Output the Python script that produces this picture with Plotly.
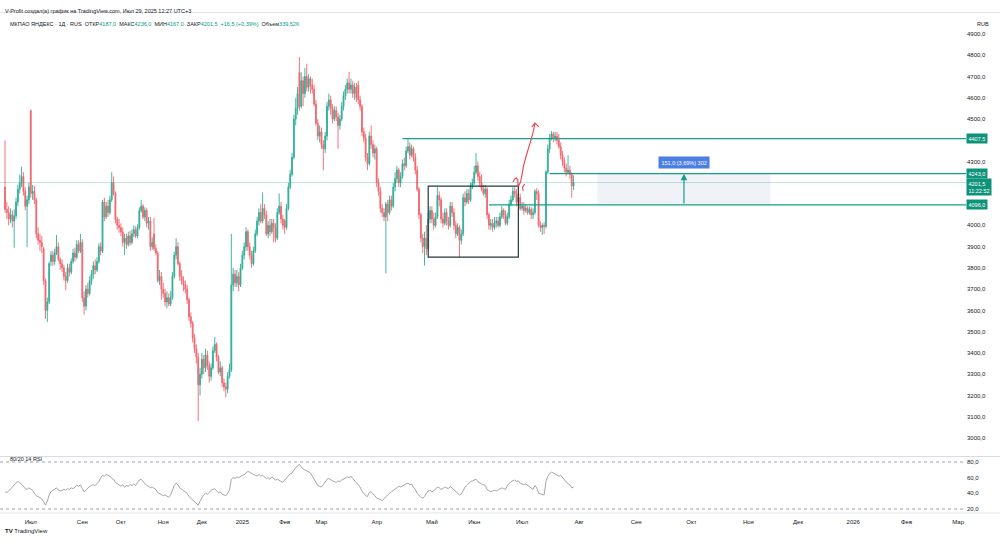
import pandas as pd
import plotly.graph_objects as go

# ---------------- data ----------------
first_date = "2024-07-04"
listing_date = "2024-07-24"
weekday_end = "2025-02-28"
weekend_start = "2025-03-01"
last_date = "2025-07-29"
holidays_2025 = ["2025-03-08", "2025-05-01", "2025-05-02", "2025-05-03", "2025-05-04",
                 "2025-05-08", "2025-05-09", "2025-05-10", "2025-05-11",
                 "2025-06-12", "2025-06-13", "2025-06-14", "2025-06-15"]
future_holidays = ["2025-11-02", "2025-11-03", "2025-11-04", "2025-12-31", "2026-01-01", "2026-01-02"]
future_end = "2026-03-31"

opens = [
    4180, 4075, 4060, 4030, 4050, 4020, 4045, 4110, 4170, 4200,
    4230, 4160, 4090, 4120, 4540, 4150, 4160, 4120, 3960, 3930,
    3920, 3890, 3740, 3600, 3640, 3830, 3860, 3830, 3870, 3900,
    3840, 3820, 3800, 3760, 3740, 3800, 3780, 3830, 3870, 3850,
    3910, 3880, 3920, 3660, 3620, 3700, 3680, 3740, 3770, 3810,
    3790, 3830, 3900, 3880, 4110, 4040, 4090, 4060, 4120, 4200,
    4150, 4030, 4000, 3990, 3970, 3920, 3940, 3910, 3950, 3920,
    3960, 3980, 3950, 3990, 4070, 4090, 4040, 4070, 4010, 4020,
    3900, 3960, 3890, 3870, 3740, 3760, 3700, 3680, 3640, 3660,
    3630, 3660, 3760, 3860, 3900, 3820, 3760, 3740, 3720, 3700,
    3650, 3570, 3540, 3470, 3420, 3380, 3250, 3300, 3370, 3330,
    3390, 3340, 3290, 3330, 3410, 3440, 3380, 3310, 3330, 3260,
    3240, 3230, 3290, 3320, 3720, 3770, 3730, 3760, 3720, 3800,
    3860, 3900, 3970, 3900, 3860, 3820, 3880, 3960, 4020, 4060,
    4020, 4080, 4050, 3960, 4000, 3970, 4010, 3990, 3940, 4060,
    4090, 4030, 4020, 3990, 4080, 4180, 4240, 4320, 4500, 4550,
    4720, 4560, 4680, 4620, 4700, 4650, 4690, 4660, 4640, 4570,
    4480, 4420, 4440, 4380, 4360, 4420, 4560, 4590, 4550, 4500,
    4540, 4510, 4470, 4500, 4560, 4610, 4640, 4670, 4640, 4660,
    4620, 4650, 4660, 4590, 4560, 4440, 4410, 4320, 4290, 4420,
    4380, 4340, 4360, 4200, 4160, 4080, 4060, 4040, 4100, 4060,
    4120, 4090, 4180, 4220, 4260, 4200, 4230, 4290, 4280, 4350,
    4370, 4330, 4360, 4320, 4260, 4170, 4050, 3940, 3900, 3940,
    3890, 4030, 4070, 4030, 4000, 4040, 4140, 4120, 4030, 4010,
    4060, 4020, 4000, 4090, 4060, 4000, 3960, 3990, 3930, 3960,
    4130, 4110, 4150, 4120, 4180, 4200, 4250, 4280, 4230, 4200,
    4170, 4150, 4170, 4050, 4000, 4010, 3990, 4010, 4020, 4000,
    4040, 4070, 4050, 4010, 4040, 4100, 4120, 4160, 4150, 4110,
    4130, 4080, 4090, 4070, 4080, 4060, 4075, 4050, 4060, 4160,
    4150, 4000, 3990, 4000, 3995, 4250, 4360, 4410, 4430, 4410,
    4420, 4400, 4370, 4330, 4300, 4270, 4250, 4260, 4240, 4187,
]
highs = [
    4400, 4110, 4090, 4080, 4070, 4075, 4130, 4190, 4240, 4275,
    4250, 4180, 4140, 4200, 4545, 4190, 4185, 4130, 3990, 3960,
    3950, 3900, 3750, 3660, 3830, 3880, 3880, 3890, 3955, 3920,
    3850, 3840, 3815, 3780, 3820, 3820, 3845, 3890, 3895, 3930,
    3930, 3960, 3935, 3690, 3720, 3730, 3760, 3790, 3830, 3840,
    3850, 3915, 3920, 4120, 4130, 4110, 4120, 4140, 4250, 4230,
    4160, 4040, 4030, 4010, 3990, 3960, 3960, 3970, 3975, 3980,
    4000, 3995, 4005, 4085, 4120, 4100, 4085, 4080, 4040, 4040,
    3945, 4035, 3910, 3880, 3790, 3780, 3730, 3700, 3690, 3680,
    3690, 3780, 3875, 3940, 3920, 3830, 3790, 3760, 3740, 3720,
    3660, 3590, 3550, 3490, 3440, 3400, 3330, 3400, 3390, 3420,
    3410, 3360, 3350, 3430, 3475, 3450, 3390, 3360, 3340, 3280,
    3260, 3310, 3350, 3960, 3800, 3790, 3790, 3780, 3820, 3880,
    3920, 3990, 3980, 3920, 3880, 3900, 3980, 4040, 4080, 4100,
    4155, 4100, 4070, 4020, 4030, 4030, 4030, 4010, 4080, 4150,
    4110, 4050, 4030, 4100, 4200, 4260, 4340, 4520, 4600, 4650,
    4792, 4720, 4700, 4740, 4760, 4710, 4700, 4690, 4660, 4590,
    4500, 4470, 4460, 4400, 4440, 4580, 4620, 4610, 4570, 4560,
    4560, 4530, 4520, 4580, 4630, 4660, 4690, 4722, 4690, 4680,
    4670, 4670, 4680, 4610, 4570, 4460, 4430, 4340, 4440, 4470,
    4400, 4380, 4370, 4220, 4180, 4100, 4080, 4110, 4120, 4140,
    4140, 4200, 4250, 4280, 4270, 4250, 4310, 4320, 4370, 4407,
    4390, 4380, 4370, 4340, 4280, 4180, 4060, 3960, 3970, 4000,
    4060, 4090, 4090, 4060, 4060, 4180, 4160, 4130, 4060, 4080,
    4080, 4040, 4110, 4110, 4080, 4020, 4010, 4000, 3980, 4150,
    4160, 4170, 4170, 4200, 4220, 4280, 4340, 4300, 4250, 4240,
    4190, 4190, 4180, 4060, 4030, 4030, 4040, 4040, 4040, 4060,
    4090, 4080, 4070, 4060, 4120, 4140, 4180, 4180, 4170, 4150,
    4150, 4110, 4110, 4100, 4090, 4090, 4085, 4080, 4170, 4175,
    4165, 4020, 4010, 4015, 4260, 4380, 4430, 4443, 4440, 4440,
    4440, 4430, 4390, 4350, 4320, 4290, 4330, 4280, 4250, 4236,
]
lows = [
    4060, 4030, 4000, 4010, 3990, 3895, 4030, 4090, 4150, 4180,
    4140, 4070, 3897, 4100, 4130, 4120, 4100, 3940, 3910, 3880,
    3870, 3720, 3560, 3545, 3630, 3810, 3810, 3815, 3860, 3830,
    3790, 3780, 3740, 3695, 3730, 3760, 3770, 3820, 3830, 3840,
    3870, 3870, 3640, 3580, 3600, 3660, 3670, 3720, 3750, 3770,
    3780, 3820, 3860, 3870, 4020, 4030, 4040, 4050, 4110, 4140,
    4010, 3980, 3965, 3950, 3900, 3860, 3890, 3900, 3905, 3910,
    3945, 3940, 3940, 3980, 4060, 4030, 4020, 3990, 3980, 3880,
    3885, 3880, 3860, 3730, 3720, 3650, 3660, 3620, 3610, 3620,
    3620, 3650, 3750, 3840, 3810, 3740, 3720, 3690, 3680, 3630,
    3550, 3520, 3450, 3400, 3350, 3080, 3200, 3280, 3300, 3310,
    3320, 3260, 3270, 3320, 3400, 3360, 3300, 3290, 3240, 3220,
    3190, 3210, 3280, 3310, 3690, 3710, 3710, 3690, 3710, 3790,
    3840, 3880, 3880, 3840, 3800, 3810, 3870, 3950, 4000, 4010,
    4010, 4030, 3950, 3940, 3950, 3960, 3920, 3920, 3930, 4050,
    4010, 3980, 3960, 3980, 4070, 4170, 4230, 4310, 4470, 4520,
    4540, 4550, 4560, 4600, 4630, 4630, 4620, 4620, 4560, 4470,
    4400, 4390, 4360, 4260, 4340, 4400, 4540, 4520, 4480, 4490,
    4490, 4360, 4450, 4490, 4540, 4590, 4620, 4620, 4620, 4600,
    4590, 4580, 4570, 4540, 4420, 4390, 4300, 4260, 4280, 4360,
    4320, 4310, 4180, 4140, 4060, 4040, 4020, 3774, 4020, 4050,
    4070, 4080, 4160, 4200, 4180, 4180, 4220, 4260, 4270, 4340,
    4310, 4320, 4300, 4240, 4160, 4030, 3920, 3870, 3811, 3860,
    3880, 4010, 4010, 3980, 3990, 4030, 4090, 4010, 3990, 4000,
    4000, 3980, 3990, 4040, 3980, 3940, 3950, 3850, 3910, 3950,
    4090, 4100, 4100, 4110, 4170, 4190, 4240, 4210, 4180, 4160,
    4140, 4130, 4030, 3980, 3980, 3970, 3980, 3990, 3990, 3990,
    4030, 4030, 4000, 4000, 4030, 4090, 4110, 4130, 4090, 4100,
    4070, 4070, 4050, 4060, 4050, 4050, 4030, 4030, 4050, 4120,
    3990, 3970, 3955, 3960, 3985, 4240, 4340, 4400, 4390, 4395,
    4380, 4360, 4310, 4280, 4250, 4230, 4240, 4220, 4130, 4167,
]
closes = [
    4075, 4060, 4030, 4050, 4020, 4045, 4110, 4170, 4200, 4230,
    4160, 4090, 4120, 4180, 4150, 4160, 4120, 3960, 3930, 3920,
    3900, 3740, 3600, 3640, 3820, 3860, 3830, 3870, 3900, 3840,
    3820, 3800, 3760, 3740, 3800, 3780, 3830, 3870, 3850, 3910,
    3880, 3920, 3660, 3620, 3700, 3680, 3740, 3770, 3810, 3790,
    3830, 3900, 3880, 4110, 4040, 4090, 4060, 4120, 4200, 4150,
    4030, 4000, 3990, 3970, 3920, 3940, 3910, 3950, 3920, 3960,
    3980, 3950, 3990, 4070, 4090, 4040, 4070, 4010, 4020, 3900,
    3920, 3890, 3870, 3740, 3760, 3700, 3680, 3640, 3660, 3630,
    3660, 3760, 3860, 3900, 3820, 3760, 3740, 3720, 3700, 3650,
    3570, 3540, 3470, 3420, 3380, 3250, 3300, 3370, 3330, 3390,
    3340, 3290, 3330, 3410, 3440, 3380, 3310, 3330, 3260, 3240,
    3230, 3290, 3320, 3720, 3770, 3730, 3760, 3720, 3800, 3860,
    3900, 3970, 3900, 3860, 3820, 3880, 3960, 4020, 4060, 4020,
    4080, 4050, 3960, 4000, 3970, 4010, 3990, 3940, 4060, 4090,
    4030, 4000, 3990, 4080, 4180, 4240, 4320, 4500, 4550, 4620,
    4560, 4680, 4620, 4700, 4650, 4690, 4660, 4640, 4570, 4480,
    4420, 4440, 4380, 4360, 4420, 4560, 4590, 4550, 4500, 4540,
    4510, 4470, 4500, 4560, 4610, 4640, 4670, 4640, 4660, 4620,
    4650, 4600, 4590, 4560, 4440, 4410, 4320, 4290, 4420, 4380,
    4340, 4360, 4200, 4160, 4080, 4060, 4040, 4100, 4060, 4120,
    4090, 4180, 4220, 4260, 4200, 4230, 4290, 4280, 4350, 4370,
    4330, 4360, 4320, 4260, 4170, 4050, 3940, 3900, 3940, 3890,
    4030, 4070, 4030, 4000, 4040, 4140, 4120, 4030, 4010, 4060,
    4020, 4000, 4090, 4060, 4000, 3960, 3990, 3930, 3960, 4130,
    4110, 4150, 4120, 4180, 4200, 4250, 4280, 4230, 4200, 4170,
    4150, 4170, 4050, 4000, 4010, 3990, 4010, 4020, 4000, 4040,
    4070, 4050, 4010, 4040, 4100, 4120, 4160, 4150, 4110, 4130,
    4080, 4090, 4070, 4080, 4060, 4075, 4050, 4060, 4160, 4150,
    4000, 3990, 4000, 3995, 4250, 4360, 4410, 4430, 4410, 4420,
    4400, 4370, 4330, 4300, 4270, 4250, 4260, 4240, 4185, 4201.5,
]
rsi = [
    42, 41, 43, 45, 48, 51, 53, 55, 54, 52,
    49, 46, 45, 47, 46, 44, 40, 37, 36, 35,
    33, 29, 25, 30, 38, 42, 44, 46, 47, 44,
    43, 44, 45, 44, 46, 45, 47, 46, 48, 50,
    49, 51, 46, 42, 44, 47, 49, 50, 51, 50,
    52, 55, 60, 63, 62, 64, 63, 62, 59, 58,
    54, 52, 50, 49, 51, 48, 50, 49, 51, 50,
    52, 50, 54, 57, 58, 55, 53, 50, 49, 47,
    48, 46, 45, 41, 40, 38, 37, 38, 36, 35,
    38, 45, 50, 53, 51, 47, 45, 43, 41, 40,
    36, 34, 31, 29, 27, 25, 30, 34, 38, 40,
    39, 41, 44, 45, 46, 43, 41, 42, 39, 38,
    37, 40, 44, 58, 60, 59, 61, 60, 62, 63,
    64, 66, 68, 67, 65, 64, 63, 62, 64, 62,
    63, 61, 59, 60, 58, 61, 59, 57, 58, 56,
    55, 54, 57, 60, 63, 65, 66, 70, 73, 75,
    77, 74, 71, 70, 69, 68, 66, 62, 58, 54,
    50, 49, 48, 51, 54, 58, 59, 57, 56, 55,
    54, 56, 55, 57, 58, 60, 61, 60, 62, 59,
    56, 53, 51, 48, 43, 40, 37, 36, 41, 42,
    40, 37, 34, 33, 32, 31, 33, 36, 38, 40,
    42, 44, 45, 47, 49, 48, 50, 51, 52, 53,
    51, 52, 48, 45, 40, 37, 35, 34, 36, 40,
    43, 44, 42, 43, 45, 48, 47, 45, 46, 48,
    47, 46, 49, 47, 44, 42, 41, 38, 39, 44,
    48, 50, 53, 55, 56, 57, 58, 55, 53, 52,
    51, 50, 45, 43, 42, 43, 44, 43, 44, 45,
    47, 46, 45, 50, 53, 55, 56, 57, 55, 56,
    53, 52, 51, 52, 50, 48, 46, 45, 50, 47,
    40, 39, 38, 38, 55, 62, 65, 67, 66, 65,
    64, 62, 63, 60, 57, 54, 52, 51, 47, 48,
]
volume_text = "339,52K"

levels = [4407.5, 4243.0, 4096.0]
level_start_dates = ["2025-04-15", "2025-07-16", "2025-06-09"]
box_dates = ["2025-04-29", "2025-06-29"]
box_prices = [3851, 4185]
measure_dates = ["2025-08-11", "2025-11-16"]
measure_arrow_date = "2025-09-27"
measure_label = "151,0 (3,69%) 302"
# hand-drawn red sketch: (bar position, price)
sketch_curve = [(276.1, 4204), (277.0, 4218), (277.8, 4224), (278.7, 4214), (278.8, 4192),
                (278.3, 4180), (279.3, 4188), (280.2, 4205), (281.0, 4240), (281.8, 4280),
                (283.2, 4325), (284.6, 4365), (285.8, 4400), (286.9, 4434), (287.6, 4462),
                (288.0, 4481)]
sketch_head = [(286.4, 4463), (288.0, 4481), (290.2, 4463)]
sketch_bracket = [(282.4, 4194), (281.3, 4180), (281.6, 4162)]

# ---------------- calendar / positions ----------------
pre = pd.bdate_range(first_date, weekday_end)
post = pd.date_range(weekend_start, last_date)
post = post[~post.isin(pd.to_datetime(holidays_2025))]
dates = pre.append(post)
n = len(dates)
assert n == len(opens) == len(highs) == len(lows) == len(closes) == len(rsi)
fut = pd.date_range(pd.Timestamp(last_date) + pd.Timedelta(days=1), future_end)
fut = fut[~fut.isin(pd.to_datetime(future_holidays))]
all_dates = list(dates) + list(fut)
pos = {d.strftime("%Y-%m-%d"): i for i, d in enumerate(all_dates)}
xs = list(range(n))

def P(d):
    return pos[d]

months_ru = {1: "Янв", 2: "Фев", 3: "Мар", 4: "Апр", 5: "Май", 6: "Июн",
             7: "Июл", 8: "Авг", 9: "Сен", 10: "Окт", 11: "Ноя", 12: "Дек"}
tickvals, ticktext = [], []
seen = set()
start_i = pos[listing_date]
for i, d in enumerate(all_dates):
    key = (d.year, d.month)
    if key in seen:
        continue
    seen.add(key)
    ii = start_i if i < start_i else i
    if tickvals and ii - tickvals[-1] < 12:
        continue
    tickvals.append(ii)
    dd = all_dates[ii]
    ticktext.append(str(dd.year) if dd.month == 1 else months_ru[dd.month])

# ---------------- styling ----------------
UP = "#2fae98"
DN = "#f0656d"
TEAL = "#14a087"
BOX_TEAL = "#0e937b"
PX0, PXW = 5.0, 1.84          # first bar pixel & bar spacing
xr = [-PX0 / PXW, (1000 - PX0) / PXW]
axis_frac = 0.966
x_axis_edge = xr[0] + axis_frac * (xr[1] - xr[0])
yr = [2915.3, 5003.5]
rr = [14.9, 86.4]
MT, MB = 12, 31
H = 544
PH = H - MT - MB

def fy(py):
    return (H - MB - py) / PH

def fmt(v):
    return f"{v:.1f}".replace(".", ",")

fig = go.Figure()
fig.add_trace(go.Candlestick(
    x=xs, open=opens, high=highs, low=lows, close=closes,
    increasing=dict(line=dict(color=UP, width=0.9), fillcolor=UP),
    decreasing=dict(line=dict(color=DN, width=0.9), fillcolor=DN),
    whiskerwidth=0, xaxis="x", yaxis="y", hoverinfo="skip"))
fig.add_trace(go.Scatter(x=xs, y=rsi, mode="lines", line=dict(color="#a3a6af", width=1),
                         xaxis="x2", yaxis="y2", hoverinfo="skip"))

shapes = []
# last price line
shapes.append(dict(type="line", xref="x", yref="y", x0=xr[0], x1=x_axis_edge,
                   y0=closes[-1], y1=closes[-1], line=dict(color="rgba(20,160,135,0.28)", width=1)))
# measurement shaded area
shapes.append(dict(type="rect", xref="x", yref="y", x0=P(measure_dates[0]), x1=P(measure_dates[1]),
                   y0=levels[2], y1=levels[1], fillcolor="rgba(205,210,225,0.28)", line=dict(width=0), layer="below"))
# level lines
for lv, ds in zip(levels, level_start_dates):
    shapes.append(dict(type="line", xref="x", yref="y", x0=P(ds), x1=x_axis_edge, y0=lv, y1=lv,
                       line=dict(color=TEAL, width=1.3)))
# consolidation box
shapes.append(dict(type="rect", xref="x", yref="y", x0=P(box_dates[0]), x1=P(box_dates[1]),
                   y0=box_prices[0], y1=box_prices[1], line=dict(color="#24383a", width=1.2)))

def path(pts):
    return "M " + " L ".join(f"{a},{b}" for a, b in pts)

for pts in (sketch_curve, sketch_head, sketch_bracket):
    shapes.append(dict(type="path", xref="x", yref="y", path=path(pts),
                       line=dict(color="#e8434d", width=1.1)))
# RSI bands
for lv in (80, 20):
    shapes.append(dict(type="line", xref="paper", yref="y2", x0=0, x1=axis_frac, y0=lv, y1=lv,
                       line=dict(color="#9aa0aa", width=1, dash="dot")))
# frame lines
shapes.append(dict(type="line", xref="paper", yref="paper", x0=0, x1=1, y0=fy(456.5), y1=fy(456.5),
                   line=dict(color="#d8dbe3", width=1)))
shapes.append(dict(type="line", xref="paper", yref="paper", x0=0, x1=1, y0=fy(12.5), y1=fy(12.5),
                   line=dict(color="#e0e3eb", width=1)))
shapes.append(dict(type="line", xref="paper", yref="paper", x0=0, x1=1, y0=0, y1=0,
                   line=dict(color="#e0e3eb", width=1)))

ann = []
# measurement arrow + label
ma = P(measure_arrow_date)
ann.append(dict(x=ma, y=levels[1], ax=ma, ay=levels[2], xref="x", yref="y", axref="x", ayref="y",
                showarrow=True, arrowhead=2, arrowsize=1.1, arrowwidth=1.2, arrowcolor=TEAL, text=""))
ann.append(dict(x=ma, y=levels[1] + 52, xref="x", yref="y", text=measure_label, showarrow=False,
                font=dict(size=5.5, color="white"), bgcolor="#4c7fe6", borderpad=2.5))
# axis price labels
for lv in levels:
    ann.append(dict(x=axis_frac, y=lv, xref="paper", yref="y", xanchor="left", text=fmt(lv),
                    showarrow=False, font=dict(size=5.5, color="white"), bgcolor=BOX_TEAL, borderpad=1.5))
ann.append(dict(x=axis_frac, y=closes[-1], xref="paper", yref="y", xanchor="left", yanchor="top",
                yshift=5, text=f"{fmt(closes[-1])}<br>11:22:52", showarrow=False, align="left",
                font=dict(size=5.5, color="white"), bgcolor=BOX_TEAL, borderpad=1.5))
# header
ann.append(dict(x=0.003, y=fy(6), xref="paper", yref="paper", xanchor="left", showarrow=False,
                text="V-Profit создал(а) график на TradingView.com, Июл 29, 2025 12:27 UTC+3",
                font=dict(size=5.5, color="#131722")))
chg = closes[-1] - closes[-2]
pct = chg / closes[-2] * 100
g = "#089981"
legend = (f"МКПАО ЯНДЕКС · 1Д · RUS&nbsp;&nbsp;ОТКР<span style='color:{g}'>{fmt(opens[-1])}</span>"
          f"&nbsp;&nbsp;МАКС<span style='color:{g}'>{fmt(highs[-1])}</span>"
          f"&nbsp;&nbsp;МИН<span style='color:{g}'>{fmt(lows[-1])}</span>"
          f"&nbsp;&nbsp;ЗАКР<span style='color:{g}'>{fmt(closes[-1])}&nbsp;&nbsp;+{fmt(chg)} (+{f'{pct:.2f}'.replace('.', ',')}%)</span>"
          f"&nbsp;&nbsp;Объем<span style='color:{g}'>{volume_text}</span>")
ann.append(dict(x=0.008, y=fy(19), xref="paper", yref="paper", xanchor="left", showarrow=False,
                text=legend, font=dict(size=5.5, color="#131722")))
ann.append(dict(x=0.975, y=fy(19), xref="paper", yref="paper", xanchor="left", showarrow=False,
                text="RUB", font=dict(size=5.5, color="#131722")))
ann.append(dict(x=0.008, y=fy(464), xref="paper", yref="paper", xanchor="left", showarrow=False,
                text="80/20 14 RSI", font=dict(size=5.5, color="#131722")))
ann.append(dict(x=0.003, y=fy(536), xref="paper", yref="paper", xanchor="left", showarrow=False,
                text="<b>TV</b> TradingView", font=dict(size=6, color="#131722")))

fig.update_layout(
    width=1000, height=H, margin=dict(l=0, r=0, t=MT, b=MB),
    paper_bgcolor="white", plot_bgcolor="white", showlegend=False, separators=", ",
    font=dict(family="Liberation Sans, Arial, sans-serif", size=6, color="#131722"),
    xaxis=dict(domain=[0, 1], anchor="y", range=xr, showticklabels=False, showgrid=False,
               zeroline=False, rangeslider=dict(visible=False), fixedrange=True),
    xaxis2=dict(domain=[0, 1], anchor="y2", range=xr, matches="x", tickvals=tickvals, ticktext=ticktext,
                showgrid=False, zeroline=False, ticks="", ticklabelstandoff=4,
                tickfont=dict(size=6, color="#131722")),
    yaxis=dict(domain=[fy(456), 1], anchor="free", position=axis_frac, side="right", range=yr,
               tickvals=list(range(3000, 5000, 100)), tickformat=".1f", showgrid=False, zeroline=False,
               ticks="", tickfont=dict(size=6, color="#131722")),
    yaxis2=dict(domain=[0, fy(457)], anchor="free", position=axis_frac, side="right", range=rr,
                tickvals=[20, 40, 60, 80], tickformat=".1f", showgrid=False, zeroline=False,
                ticks="", tickfont=dict(size=6, color="#131722")),
    shapes=shapes, annotations=ann,
)
fig.write_html("out.html")
